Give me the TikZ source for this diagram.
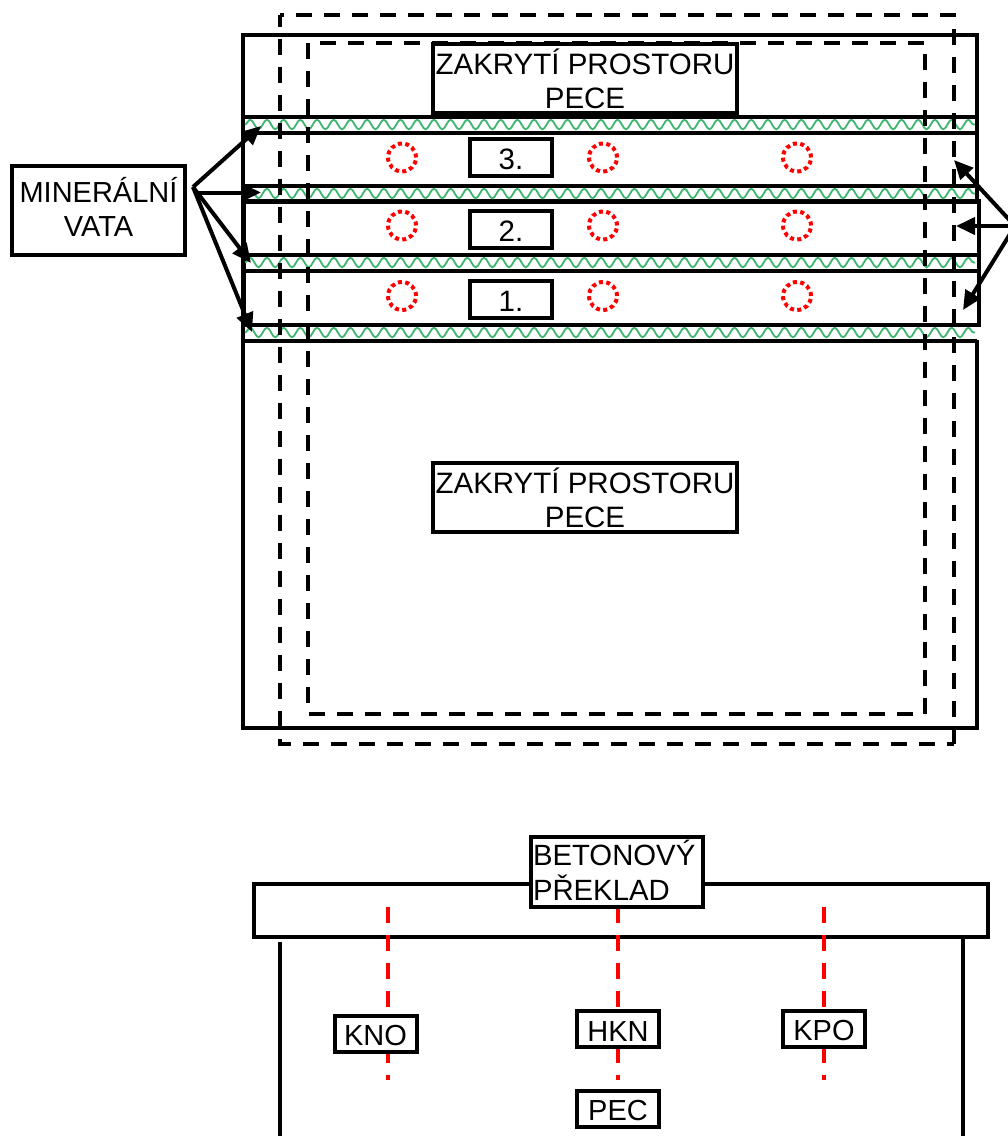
\documentclass[tikz,border=0pt]{standalone}
\usepackage{fontspec}
\setmainfont{Liberation Sans}
\usepackage{xcolor}
\usetikzlibrary{arrows.meta,decorations.pathmorphing}
\definecolor{vatagreen}{RGB}{62,182,112}
\tikzset{
  wall/.style={line width=4pt},
  hidden/.style={line width=4pt, dash pattern=on 16pt off 12pt},
  axisline/.style={red, line width=4pt, dash pattern=on 16pt off 12pt},
  hole/.style={red, line width=4pt, dash pattern=on 4pt off 3.33pt},
  wool/.style={vatagreen, line width=1.8pt, decorate, decoration={snake, segment length=16.7pt, amplitude=4.8pt}},
  pointer/.style={line width=4pt, -{Triangle[length=19pt, width=17pt]}},
  labelbox/.style={draw, fill=white, line width=4pt, inner sep=0pt, align=center, font=\fontsize{29.5}{34}\selectfont},
  numbox/.style={labelbox, minimum width=82pt, minimum height=37pt, text height=24pt},
  codebox/.style={labelbox, minimum width=82pt, minimum height=36pt, text height=24pt, font=\fontsize{29}{34}\selectfont}
}

\begin{document}
\begin{tikzpicture}[x=1pt, y=-1pt]
\useasboundingbox (0,0) rectangle (1008,1136);

% ---- upper view: outlines ----
\draw[wall] (243,340) -- (243,132) -- (243,35) -- (977,35) -- (977,201);
\draw[wall] (243.5,201) rectangle (979,325);
\draw[wall] (243,340) -- (243,728) -- (977,728) -- (977,340);

% ---- upper view: wool layers ----
\foreach \by in {124.5,193.5,262.5,332.5} {
  \draw[wool] (245,\by) -- (975,\by);
  \draw[wall] (241.5,\by-8) -- (977,\by-8);
  \draw[wall] (241.5,\by+8) -- (977,\by+8);
}
\draw[wall] (977,262.5-8) -- (981,262.5-8);
\draw[wall] (977,262.5+8) -- (981,262.5+8);

\draw[hidden, dash phase=12pt] (280,15) -| (954,744);
\draw[hidden, dash phase=4pt] (280,15) |- (954,744);
\draw[hidden, dash phase=16pt] (308,43) -| (925,714);
\draw[hidden] (308,43) |- (925,714);

% ---- upper view: labels ----
\node[labelbox, minimum width=304pt, minimum height=69pt] (lidtop) at (585,78.5) {ZAKRYTÍ PROSTORU\\PECE};
\node[labelbox, minimum width=304pt, minimum height=69pt] (lidbottom) at (585,497.5) {ZAKRYTÍ PROSTORU\\PECE};
\node[labelbox, minimum width=173pt, minimum height=89pt, font=\fontsize{29}{34}\selectfont, text depth=7pt] (wool) at (98.5,210.5) {MINERÁLNÍ\\VATA};
\node[numbox] (zone3) at (511,157.5) {3.};
\node[numbox] (zone2) at (511,229) {2.};
\node[numbox] (zone1) at (511,299.5) {1.};

% ---- upper view: measuring points ----
\foreach \py in {157.5,225.5,296}
  \foreach \px in {402,603,797}
    \draw[hole] (\px,\py) circle (14pt);

% ---- upper view: pointers ----
\coordinate (woolfrom) at (193,187);
\coordinate (woolfromB) at (195,192.5);
\coordinate (woolA) at (261,126);
\coordinate (woolB) at (261,192.5);
\coordinate (woolC) at (251,263);
\coordinate (woolD) at (252,332);
\draw[pointer] (woolfrom) -- (woolA);
\draw[pointer] (woolfromB) -- (woolB);
\draw[pointer] (woolfrom) -- (woolC);
\draw[pointer] (woolfrom) -- (woolD);

\coordinate (gapfrom) at (1015,226);
\coordinate (gapA) at (954,160);
\coordinate (gapB) at (956,226);
\coordinate (gapC) at (963,310);
\foreach \tgt in {gapA,gapB,gapC}
  \draw[pointer] (gapfrom) -- (\tgt);

% ---- lower view ----
\draw[wall] (280,942) -- (280,1136);
\draw[wall] (963,937) -- (963,1136);
\draw[wall] (254,884) rectangle (988,937);

\coordinate (axisKNOtop) at (388,907);
\coordinate (axisKNOend) at (388,1080);
\coordinate (axisHKNtop) at (618,907);
\coordinate (axisHKNend) at (618,1080);
\coordinate (axisKPOtop) at (824,907);
\coordinate (axisKPOend) at (824,1080);
\draw[axisline] (axisKNOtop) -- (axisKNOend);
\draw[axisline] (axisHKNtop) -- (axisHKNend);
\draw[axisline] (axisKPOtop) -- (axisKPOend);

\node[labelbox, minimum width=172pt, minimum height=70pt, text width=168pt, align=left, font=\fontsize{29.3}{35}\selectfont, text depth=38pt] (lintel) at (617,872) {BETONOVÝ\\PŘEKLAD};
\node[codebox] (kno) at (375.5,1034) {KNO};
\node[codebox] (hkn) at (618,1029) {HKN};
\node[codebox] (kpo) at (824,1029) {KPO};
\node[codebox] (pec) at (618,1109) {PEC};

\end{tikzpicture}
\end{document}
